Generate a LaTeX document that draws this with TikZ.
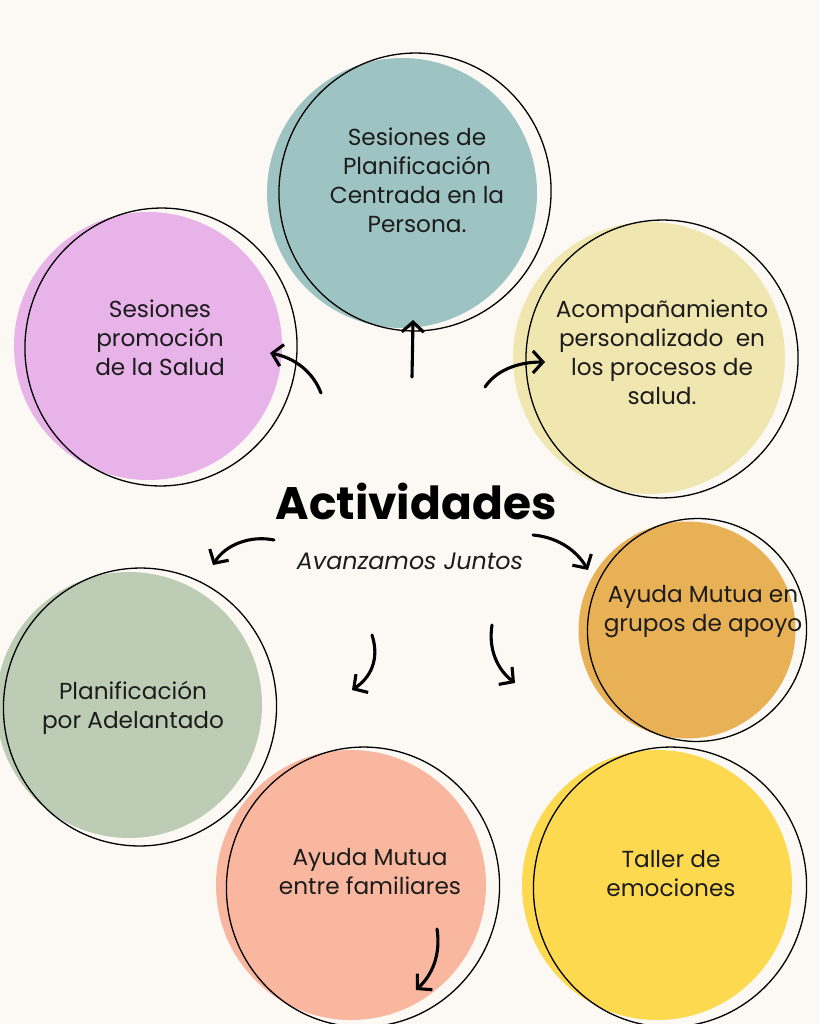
\documentclass[tikz,border=0pt]{standalone}
\usepackage{fontspec}
\setmainfont{Poppins}
\usetikzlibrary{arrows.meta,shapes.geometric}
\definecolor{bgc}{HTML}{FCF9F4}
\definecolor{cteal}{HTML}{9DC4C3}
\definecolor{cpink}{HTML}{E7B3E9}
\definecolor{cpale}{HTML}{F0E6B0}
\definecolor{corange}{HTML}{E9B155}
\definecolor{cgreen}{HTML}{BDCDB5}
\definecolor{csalmon}{HTML}{F8B79E}
\definecolor{cyellow}{HTML}{FDD94F}
\definecolor{txt}{HTML}{1C1C1C}
\tikzset{
  blob/.style={circle, inner sep=0pt, minimum size=#1},
  ring/.style={ellipse, draw=black, line width=1.3pt, inner sep=0pt},
  lbl/.style={align=center, text=txt, font=\fontsize{23.2}{29}\selectfont},
  arr/.style={line width=3.1pt, line cap=round, -{Straight Barb[length=10pt,width=22pt,line width=3.1pt]}}
}
\begin{document}
\begin{tikzpicture}[x=1pt,y=-1pt]
\useasboundingbox (0,0) rectangle (819,1024);
\clip (0,0) rectangle (819,1024);
\fill[bgc] (0,0) rectangle (819,1024);
% fills
\node[blob=270pt, fill=cteal] (f1) at (402,193) {};
\node[blob=268pt, fill=cpink] (f2) at (148,346) {};
\node[blob=272pt, fill=cpale] (f3) at (649,358) {};
\node[blob=217pt, fill=corange] (f4) at (687,630) {};
\node[blob=266pt, fill=cgreen] (f5) at (129,705) {};
\node[blob=270pt, fill=csalmon] (f6) at (351,885) {};
\node[blob=270pt, fill=cyellow] (f7) at (657,885) {};
% outlines
\node[ring, minimum width=272pt, minimum height=278pt, rotate=-8] (o1) at (415,192) {};
\node[ring, minimum width=272pt, minimum height=278pt, rotate=-8] (o2) at (161,347) {};
\node[ring, minimum width=272pt, minimum height=278pt, rotate=-8] (o3) at (662,359) {};
\node[ring, minimum width=219pt, minimum height=223pt, rotate=-8] (o4) at (697,630) {};
\node[ring, minimum width=273pt, minimum height=278pt, rotate=-8] (o5) at (140,707) {};
\node[ring, minimum width=273pt, minimum height=280pt, rotate=-8] (o6) at (363,887) {};
\node[ring, minimum width=273pt, minimum height=280pt, rotate=-8] (o7) at (670,887) {};
% labels
\node[lbl] (t1) at (417,180) {Sesiones de\\Planificación\\Centrada en la\\Persona.};
\node[lbl] (t2) at (160,338) {Sesiones\\promoción\\de la Salud};
\node[lbl] (t3) at (662,352) {Acompañamiento\\personalizado \ en\\los procesos de\\salud.};
\node[lbl] (t4) at (703,612) {Ayuda Mutua en\\grupos de apoyo};
\node[lbl] (t5) at (133,708) {Planificación\\por Adelantado};
\node[lbl] (t6) at (370,872) {Ayuda Mutua\\entre familiares};
\node[lbl] (t7) at (671,874) {Taller de\\emociones};
\node[font=\fontsize{45.5}{50}\selectfont\bfseries, text=black] (title) at (416,501) {Actividades};
\node[font=\fontsize{23.8}{28}\selectfont\itshape, text=txt] (sub) at (410,561) {Avanzamos Juntos};
% arrow end points
\coordinate (a1s) at (412,377); \coordinate (a1e) at (413,320);
\coordinate (a2s) at (321,393); \coordinate (a2e) at (270,353);
\coordinate (a3s) at (485,387); \coordinate (a3e) at (545,362);
\coordinate (a4s) at (274,540); \coordinate (a4e) at (213,565);
\coordinate (a5s) at (533,535); \coordinate (a5e) at (588,570);
\coordinate (a6s) at (372,635); \coordinate (a6e) at (352,690);
\coordinate (a7s) at (492,625); \coordinate (a7e) at (515,683);
\coordinate (a8s) at (437,929); \coordinate (a8e) at (416,990);
\draw[arr] (a1s) -- (a1e);
\draw[arr] (a2s) .. controls (313,372) and (295,358) .. (a2e);
\draw[arr] (a3s) .. controls (495,372) and (515,362) .. (a3e);
\draw[arr] (a4s) .. controls (250,535) and (225,545) .. (a4e);
\draw[arr] (a5s) .. controls (555,537) and (575,548) .. (a5e);
\draw[arr] (a6s) .. controls (380,660) and (370,678) .. (a6e);
\draw[arr] (a7s) .. controls (488,650) and (498,670) .. (a7e);
\draw[arr] (a8s) .. controls (441,955) and (432,975) .. (a8e);
\end{tikzpicture}
\end{document}
